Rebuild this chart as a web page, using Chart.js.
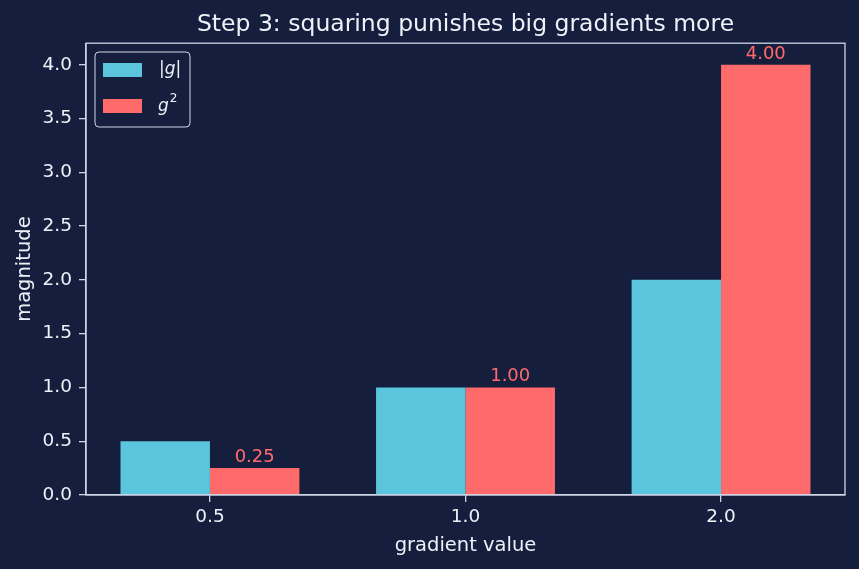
<!DOCTYPE html>
<html>
<head>
<meta charset="utf-8">
<script src="https://cdn.jsdelivr.net/npm/chart.js@4.4.0/dist/chart.umd.min.js"></script>
<style>
  html, body { margin: 0; padding: 0; background: #151f3d; }
  #wrap { width: 859px; height: 569px; }
</style>
</head>
<body>
<div id="wrap"><canvas id="grafico" width="859" height="569"></canvas></div>
<script>
// datos del gráfico
const CATEGORIAS = ['0.5', '1.0', '2.0'];
const VALORES_ABS = [0.5, 1.0, 2.0];
const VALORES_CUAD = [0.25, 1.0, 4.0];
const ETIQUETAS_SERIE = ['|g|', 'g²'];
const TICKS_Y = [0, 0.5, 1.0, 1.5, 2.0, 2.5, 3.0, 3.5, 4.0];

const FONDO = '#151f3d';
const TEXTO = '#eef1f7';
const EJE = '#cfd6e6';
const CIAN = '#5bc5de';
const ROJO = '#ff6b6b';
const FUENTE = "'DejaVu Sans', sans-serif";

// posiciones de categoría (0, 1, 2) para un eje x lineal
const aPuntos = valores => valores.map((v, i) => ({ x: i, y: v }));

// fondo del lienzo
const pluginFondo = {
  id: 'fondo',
  beforeDraw(chart) {
    const ctx = chart.ctx;
    ctx.save();
    ctx.fillStyle = FONDO;
    ctx.fillRect(0, 0, chart.width, chart.height);
    ctx.restore();
  }
};

// marco completo + etiquetas de valor + leyenda dentro del área
const pluginExtras = {
  id: 'extras',
  afterDatasetsDraw(chart) {
    const ctx = chart.ctx;
    const area = chart.chartArea;
    ctx.save();

    // valores encima de las barras rojas
    const meta = chart.getDatasetMeta(1);
    ctx.fillStyle = ROJO;
    ctx.font = '18px ' + FUENTE;
    ctx.textAlign = 'center';
    ctx.textBaseline = 'alphabetic';
    meta.data.forEach((barra, i) => {
      ctx.fillText(VALORES_CUAD[i].toFixed(2), barra.x, barra.y - 6);
    });

    // marco
    ctx.strokeStyle = EJE;
    ctx.lineWidth = 1.3;
    ctx.strokeRect(area.left, area.top, area.right - area.left, area.bottom - area.top);

    // leyenda
    const lx = 95, ly = 52, lw = 95, lh = 75;
    ctx.beginPath();
    ctx.roundRect(lx, ly, lw, lh, 4);
    ctx.fillStyle = 'rgba(21,31,61,0.8)';
    ctx.fill();
    ctx.strokeStyle = EJE;
    ctx.lineWidth = 1;
    ctx.stroke();

    chart.data.datasets.forEach((ds, i) => {
      const y = 63 + i * 36;
      ctx.fillStyle = ds.backgroundColor;
      ctx.fillRect(103, y, 39, 14);
      ctx.fillStyle = TEXTO;
      ctx.textAlign = 'left';
      ctx.textBaseline = 'middle';
      const txt = ds.label;
      if (txt.endsWith('²')) {
        ctx.font = 'italic 17px ' + FUENTE;
        const base = txt.slice(0, -1);
        ctx.fillText(base, 158, y + 8);
        const w = ctx.measureText(base).width;
        ctx.font = '12px ' + FUENTE;
        ctx.fillText('2', 158 + w + 1, y);
      } else {
        ctx.font = 'italic 17px ' + FUENTE;
        ctx.fillText(txt, 159, y + 7);
      }
    });
    ctx.restore();
  }
};

const config = {
  type: 'bar',
  data: {
    datasets: [
      { label: ETIQUETAS_SERIE[0], data: aPuntos(VALORES_ABS), backgroundColor: CIAN },
      { label: ETIQUETAS_SERIE[1], data: aPuntos(VALORES_CUAD), backgroundColor: ROJO }
    ]
  },
  options: {
    responsive: false,
    animation: false,
    devicePixelRatio: 1,
    layout: { padding: { left: 0, right: 14, top: 0, bottom: 0 } },
    datasets: {
      bar: { categoryPercentage: 0.7, barPercentage: 1.0, borderWidth: 0 }
    },
    plugins: {
      legend: { display: false },
      tooltip: { enabled: false },
      title: {
        display: true,
        fullSize: false,
        text: 'Step 3: squaring punishes big gradients more',
        color: TEXTO,
        font: { family: FUENTE, size: 23.5, weight: 'normal' },
        padding: { top: 11, bottom: 4 }
      }
    },
    scales: {
      x: {
        type: 'linear',
        min: -0.485,
        max: 2.485,
        offset: false,
        grid: { offset: false, drawOnChartArea: false, color: EJE, tickLength: 7, lineWidth: 1.3 },
        border: { color: EJE, width: 1.3 },
        ticks: {
          color: TEXTO, font: { family: FUENTE, size: 18.5 }, padding: 4,
          callback: v => CATEGORIAS[Math.round(v)]
        },
        afterBuildTicks(s) {
          s.ticks = CATEGORIAS.map((c, i) => ({ value: i }));
        },
        title: {
          display: true, text: 'gradient value', color: TEXTO,
          font: { family: FUENTE, size: 19.5 }, padding: { top: 0, bottom: 11 }
        },
        afterFit(s) { s.height = 74; }
      },
      y: {
        min: 0,
        max: 4.2,
        grid: { drawOnChartArea: false, color: EJE, tickLength: 7, lineWidth: 1.3 },
        border: { color: EJE, width: 1.3 },
        ticks: {
          color: TEXTO, font: { family: FUENTE, size: 18.5 }, padding: 7,
          callback: v => Number(v).toFixed(1)
        },
        afterBuildTicks(s) {
          s.ticks = TICKS_Y.map(v => ({ value: v }));
        },
        title: {
          display: true, text: 'magnitude', color: TEXTO,
          font: { family: FUENTE, size: 19.5 }, padding: { top: 13, bottom: 0 }
        },
        afterFit(s) { s.width = 86; }
      }
    }
  },
  plugins: [pluginFondo, pluginExtras]
};

new Chart(document.getElementById('grafico').getContext('2d'), config);
</script>
</body>
</html>
